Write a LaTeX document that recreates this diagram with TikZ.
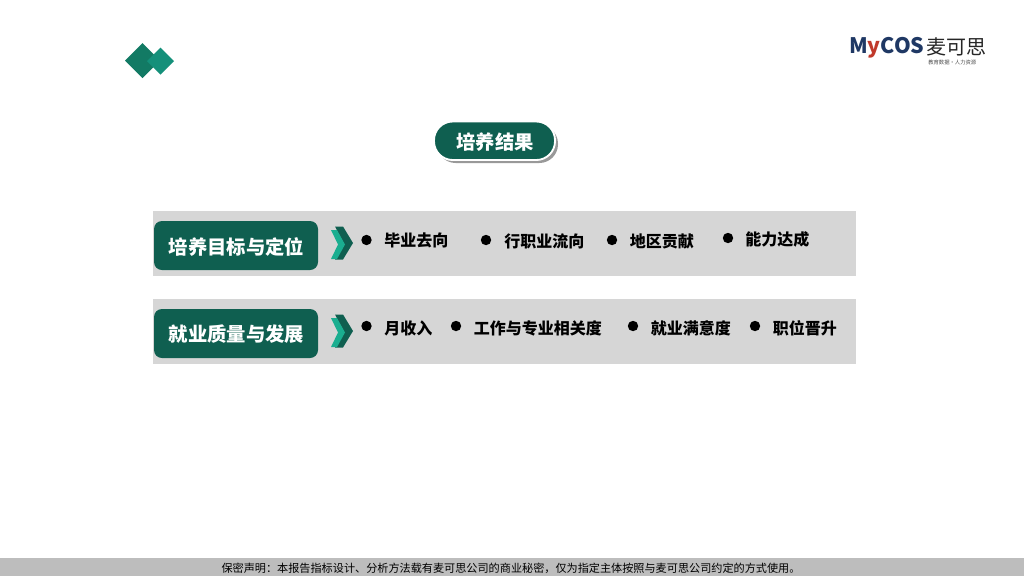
\documentclass[tikz,border=0pt]{standalone}
\usepackage{fontspec}
\setmainfont{Noto Sans CJK SC}
\definecolor{dkgreen}{HTML}{0F5F50}
\definecolor{markA}{HTML}{127A64}
\definecolor{markB}{HTML}{14907A}
\definecolor{chevA}{HTML}{1AAE90}
\definecolor{band}{HTML}{D6D6D6}
\definecolor{foot}{HTML}{BDBDBD}
\definecolor{navy}{HTML}{1F3864}
\definecolor{logored}{HTML}{C0392B}
\tikzset{
  bandbox/.style={fill=band,draw=none},
  headlab/.style={text=white,font=\fontsize{14.5}{15}\selectfont\bfseries,inner sep=0pt},
  itemlab/.style={font=\fontsize{12}{12}\selectfont\bfseries,text=black,anchor=west,inner sep=0pt},
  bulletdot/.style={circle,fill=black,inner sep=0pt,minimum size=7.8pt,draw=none}
}
\newcommand{\chev}[2]{%
 \fill[dkgreen] (#1+5,#2-16.5) -- (#1+13,#2-16.5) -- (#1+23,#2) -- (#1+13,#2+16.5) -- (#1+5,#2+16.5) -- (#1+13.5,#2) -- cycle;
 \fill[chevA] (#1+1,#2-13) -- (#1+7,#2-13) -- (#1+15,#2+1.5) -- (#1+7,#2+16) -- (#1+1,#2+16) -- (#1+8,#2+1.5) -- cycle;}
\begin{document}
\begin{tikzpicture}[x=0.75pt,y=-0.75pt]
\useasboundingbox (0,0) rectangle (1024,576);
\fill[white] (0,0) rectangle (1024,576);
% corner mark
\fill[markA] (125,60.5) -- (142.5,43) -- (160,60.5) -- (142.5,78) -- cycle;
\fill[markB] (147,61) -- (160.5,47.5) -- (174,61) -- (160.5,74.5) -- cycle;
% logo
\node[inner sep=0pt,anchor=west,text=navy,font=\fontsize{16}{16}\selectfont\bfseries] (logoa) at (849,48) {M{\color{logored}y}COS};
\node[inner sep=0pt,anchor=west,text=black!85,font=\fontsize{15}{15}\selectfont] (logob) at (926,47) {麦可思};
\node[inner sep=0pt,anchor=west,text=black!70,font=\fontsize{4}{4}\selectfont] (logoc) at (928,62) {教育数据·人力资源};
% title
\fill[black!40,rounded corners=14pt] (437,125) rectangle (558,163);
\draw[white,line width=1.4pt,fill=dkgreen,rounded corners=14pt] (434,121.5) rectangle (555,160);
\node[headlab] (title) at (495,142.5) {培养结果};
% bands
\fill[bandbox] (153,211) rectangle (856,276);
\fill[bandbox] (153,299) rectangle (856,364);
% heads
\fill[dkgreen,rounded corners=6pt] (154,221) rectangle (318,270);
\node[headlab] (h1) at (236.5,246.5) {培养目标与定位};
\fill[dkgreen,rounded corners=6pt] (154,309) rectangle (318,358);
\node[headlab] (h2) at (236.5,334.5) {就业质量与发展};
\chev{330}{243}
\chev{330}{331}
% row 1
\node[bulletdot] (b1) at (366.5,240) {}; \node[itemlab] (t1) at (384,240) {毕业去向};
\node[bulletdot] (b2) at (486,240) {}; \node[itemlab] (t2) at (504,241) {行职业流向};
\node[bulletdot] (b3) at (612,240) {}; \node[itemlab] (t3) at (629.5,241) {地区贡献};
\node[bulletdot] (b4) at (728,238) {}; \node[itemlab] (t4) at (745,239) {能力达成};
% row 2
\node[bulletdot] (c1) at (366.5,326) {}; \node[itemlab] (u1) at (384,328) {月收入};
\node[bulletdot] (c2) at (456,326) {}; \node[itemlab] (u2) at (473.5,328) {工作与专业相关度};
\node[bulletdot] (c3) at (633,326) {}; \node[itemlab] (u3) at (650.5,328) {就业满意度};
\node[bulletdot] (c4) at (755,326) {}; \node[itemlab] (u4) at (772.5,328) {职位晋升};
% footer
\fill[foot] (0,558) rectangle (1024,576);
\node[inner sep=0pt,text=black,font=\fontsize{8.35}{9}\selectfont] (foot) at (511,568) {保密声明：本报告指标设计、分析方法载有麦可思公司的商业秘密，仅为指定主体按照与麦可思公司约定的方式使用。};
\end{tikzpicture}
\end{document}
